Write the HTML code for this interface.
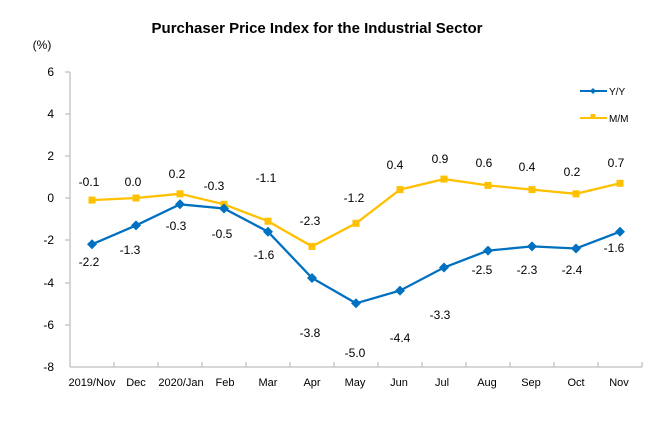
<!DOCTYPE html>
<html><head><meta charset="utf-8"><style>
body{margin:0;background:#fff}
text{font-family:"Liberation Sans",Arial,sans-serif;font-size:12px;fill:#000}
</style></head><body>
<svg width="665" height="429" viewBox="0 0 665 429" xmlns="http://www.w3.org/2000/svg">
<text x="317" y="33" text-anchor="middle" style="font-size:15px;font-weight:bold">Purchaser Price Index for the Industrial  Sector</text>
<text x="42" y="49" text-anchor="middle">(%)</text>
<g stroke="#bfbfbf" stroke-width="1.3" fill="none">
<line x1="70" y1="72" x2="70" y2="367"/>
<line x1="70" y1="367" x2="642" y2="367"/>
<line x1="65" y1="72" x2="70" y2="72"/><line x1="65" y1="114" x2="70" y2="114"/>
<line x1="65" y1="156" x2="70" y2="156"/><line x1="65" y1="198" x2="70" y2="198"/>
<line x1="65" y1="240" x2="70" y2="240"/><line x1="65" y1="283" x2="70" y2="283"/>
<line x1="65" y1="325" x2="70" y2="325"/>
<line x1="114" y1="362" x2="114" y2="367"/><line x1="158" y1="362" x2="158" y2="367"/>
<line x1="202" y1="362" x2="202" y2="367"/><line x1="246" y1="362" x2="246" y2="367"/>
<line x1="290" y1="362" x2="290" y2="367"/><line x1="334" y1="362" x2="334" y2="367"/>
<line x1="378" y1="362" x2="378" y2="367"/><line x1="422" y1="362" x2="422" y2="367"/>
<line x1="466" y1="362" x2="466" y2="367"/><line x1="510" y1="362" x2="510" y2="367"/>
<line x1="554" y1="362" x2="554" y2="367"/><line x1="598" y1="362" x2="598" y2="367"/>
<line x1="642" y1="362" x2="642" y2="367"/>
</g>
<g text-anchor="end">
<text x="54" y="76">6</text><text x="54" y="118">4</text><text x="54" y="160">2</text>
<text x="54" y="202">0</text><text x="54" y="244">-2</text><text x="54" y="287">-4</text>
<text x="54" y="329">-6</text><text x="54" y="371">-8</text>
</g>
<g text-anchor="middle" style="font-size:11px">
<text x="92" y="386" style="font-size:11px">2019/Nov</text><text x="136" y="386" style="font-size:11px">Dec</text>
<text x="181" y="386" style="font-size:11px">2020/Jan</text><text x="225" y="386" style="font-size:11px">Feb</text>
<text x="268" y="386" style="font-size:11px">Mar</text><text x="312" y="386" style="font-size:11px">Apr</text>
<text x="355" y="386" style="font-size:11px">May</text><text x="399" y="386" style="font-size:11px">Jun</text>
<text x="442" y="386" style="font-size:11px">Jul</text><text x="487" y="386" style="font-size:11px">Aug</text>
<text x="531" y="386" style="font-size:11px">Sep</text><text x="576" y="386" style="font-size:11px">Oct</text>
<text x="619" y="386" style="font-size:11px">Nov</text>
</g>
<!-- M/M -->
<polyline fill="none" stroke="#ffc000" stroke-width="2.3" points="92,200.1 136,198 180,193.8 224,204.3 268,221.2 312,246.4 356,223.3 400,189.6 444,179.1 488,185.4 532,189.6 576,193.8 620,183.3"/>
<g fill="#ffc000">
<rect x="88.5" y="196.6" width="7" height="7"/><rect x="132.5" y="194.5" width="7" height="7"/>
<rect x="176.5" y="190.3" width="7" height="7"/><rect x="220.5" y="200.8" width="7" height="7"/>
<rect x="264.5" y="217.7" width="7" height="7"/><rect x="308.5" y="242.9" width="7" height="7"/>
<rect x="352.5" y="219.8" width="7" height="7"/><rect x="396.5" y="186.1" width="7" height="7"/>
<rect x="440.5" y="175.6" width="7" height="7"/><rect x="484.5" y="181.9" width="7" height="7"/>
<rect x="528.5" y="186.1" width="7" height="7"/><rect x="572.5" y="190.3" width="7" height="7"/>
<rect x="616.5" y="179.8" width="7" height="7"/>
</g>
<!-- Y/Y -->
<polyline fill="none" stroke="#0070c0" stroke-width="2.3" points="92,244.3 136,225.4 180,204.3 224,208.5 268,231.7 312,278 356,303.3 400,290.6 444,267.5 488,250.6 532,246.4 576,248.5 620,231.7"/>
<g fill="#0070c0">
<path d="M92,239.3l5,5-5,5-5-5z"/><path d="M136,220.4l5,5-5,5-5-5z"/>
<path d="M180,199.3l5,5-5,5-5-5z"/><path d="M224,203.5l5,5-5,5-5-5z"/>
<path d="M268,226.7l5,5-5,5-5-5z"/><path d="M312,273l5,5-5,5-5-5z"/>
<path d="M356,298.3l5,5-5,5-5-5z"/><path d="M400,285.6l5,5-5,5-5-5z"/>
<path d="M444,262.5l5,5-5,5-5-5z"/><path d="M488,245.6l5,5-5,5-5-5z"/>
<path d="M532,241.4l5,5-5,5-5-5z"/><path d="M576,243.5l5,5-5,5-5-5z"/>
<path d="M620,226.7l5,5-5,5-5-5z"/>
</g>
<g text-anchor="middle">
<text x="89" y="186">-0.1</text><text x="133" y="186">0.0</text><text x="177" y="178">0.2</text>
<text x="214" y="190">-0.3</text><text x="266" y="182">-1.1</text><text x="310" y="225">-2.3</text>
<text x="354" y="202">-1.2</text><text x="395" y="169">0.4</text><text x="440" y="163">0.9</text>
<text x="484" y="167">0.6</text><text x="527" y="171">0.4</text><text x="572" y="176">0.2</text>
<text x="616" y="167">0.7</text>
<text x="89" y="266">-2.2</text><text x="130" y="254">-1.3</text><text x="176" y="230">-0.3</text>
<text x="222" y="238">-0.5</text><text x="264" y="259">-1.6</text><text x="310" y="337">-3.8</text>
<text x="355" y="357">-5.0</text><text x="400" y="342">-4.4</text><text x="440" y="319">-3.3</text>
<text x="482" y="274">-2.5</text><text x="527" y="274">-2.3</text><text x="572" y="274">-2.4</text>
<text x="614" y="252">-1.6</text>
</g>
<line x1="580" y1="91" x2="607" y2="91" stroke="#0070c0" stroke-width="2"/>
<path d="M593,88l3,3-3,3-3-3z" fill="#0070c0"/>
<text x="609" y="95" style="font-size:10px">Y/Y</text>
<line x1="580" y1="118" x2="607" y2="118" stroke="#ffc000" stroke-width="2"/>
<rect x="590.5" y="114" width="5" height="5" fill="#ffc000"/>
<text x="609" y="122" style="font-size:10px">M/M</text>
</svg>
</body></html>
